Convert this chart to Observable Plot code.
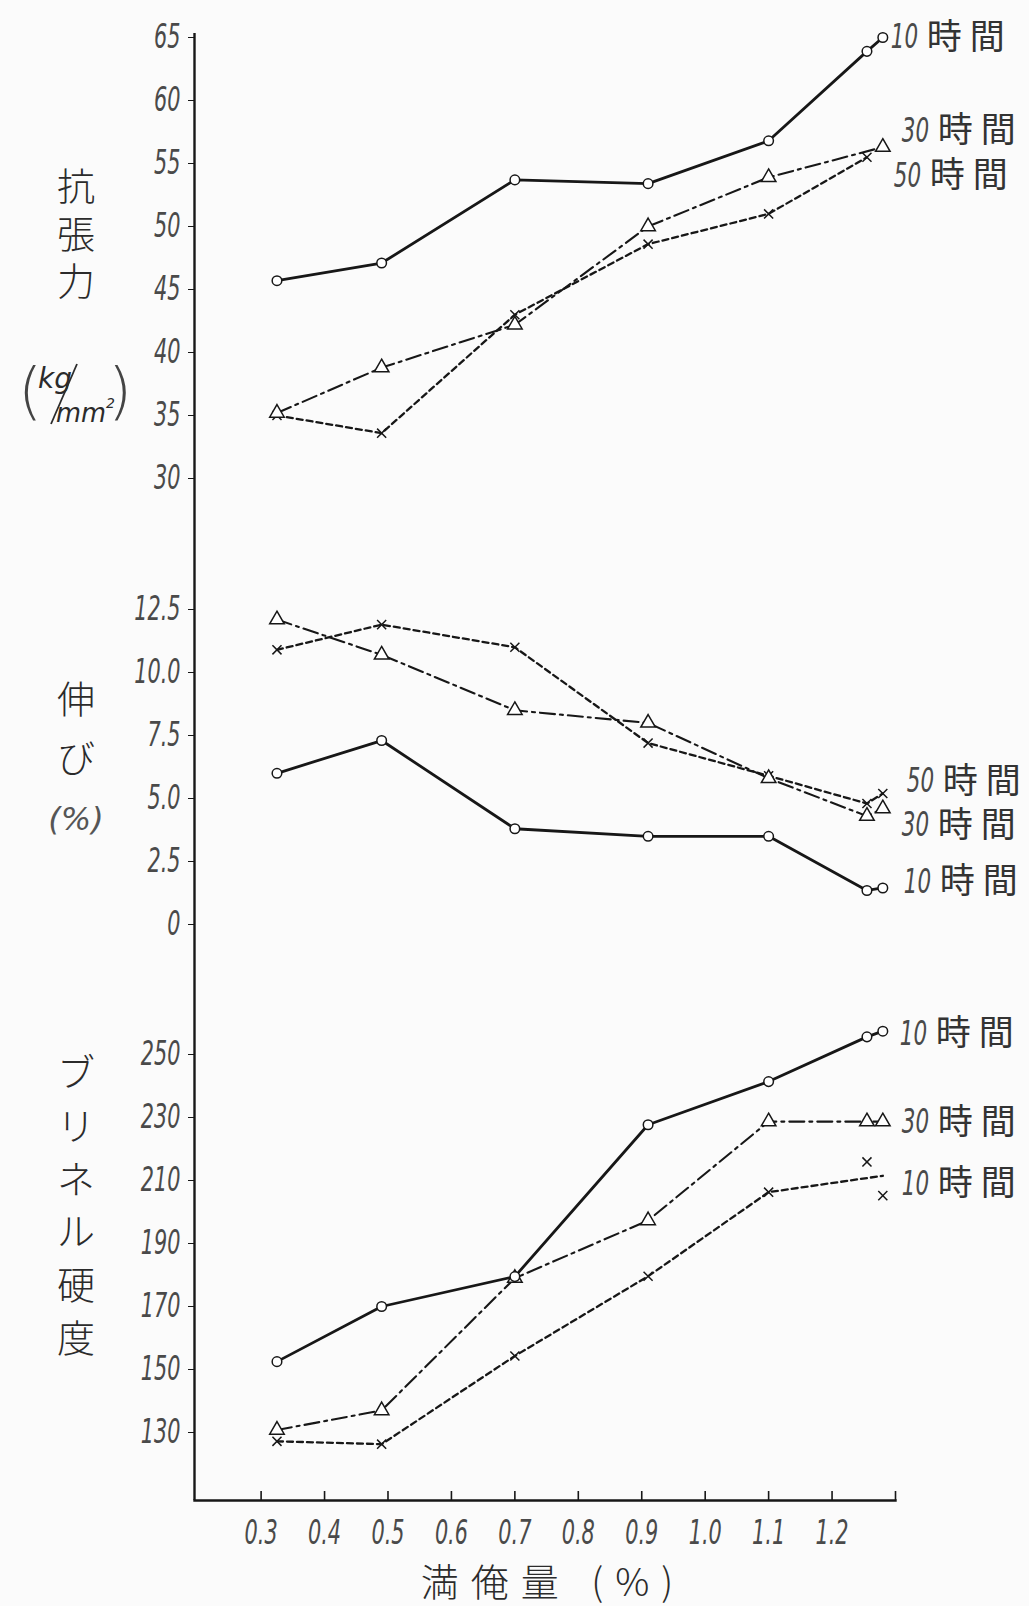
<!DOCTYPE html>
<html><head><meta charset="utf-8">
<script src="https://cdn.jsdelivr.net/npm/d3@7"></script>
<script src="https://cdn.jsdelivr.net/npm/@observablehq/plot@0.6"></script>
<style>
html,body{margin:0;padding:0;background:#fbfbfb;}
#wrap{position:relative;width:1029px;height:1606px;overflow:hidden;background:#fbfbfb;}
.panel{position:absolute;left:0;width:1029px;}
.panel svg{display:block;overflow:visible;}
.vt{position:absolute;font-family:"Noto Sans CJK JP",sans-serif;color:#2b2b2b;line-height:1;transform:translate(-50%,-50%);white-space:nowrap;font-weight:300;}
</style></head><body><div id="wrap"></div>
<script>
// ---------------- data ----------------
const manganese = [0.325, 0.49, 0.70, 0.91, 1.10, 1.255];   // 満俺量 (%)
const manganeseEnd = 1.28;                                   // end marker beside the labels

const tensile10 = [45.7, 47.1, 53.7, 53.4, 56.8, 63.9];
const tensile30 = [35.2, 38.8, 42.2, 50.0, 53.9, null];
const tensile50 = [35.0, 33.6, 43.0, 48.6, 51.0, 55.5];
const tensileEnd = [65.0, 56.3, null];
const tensileLabels = ["10時間", "30時間", "50時間"];

const elong10 = [6.0, 7.3, 3.8, 3.5, 3.5, 1.35];
const elong30 = [12.1, 10.7, 8.5, 8.0, 5.8, 4.3];
const elong50 = [10.9, 11.9, 11.0, 7.2, 5.9, 4.8];
const elongEnd = [1.45, 4.6, 5.2];
const elongLabels = ["10時間", "30時間", "50時間"];

const hard10 = [152.5, 170.0, 179.5, 227.7, 241.4, 255.6];
const hard30 = [130.8, 137.0, 179.0, 197.3, 228.7, 228.7];
const hard50 = [127.2, 126.3, 154.3, 179.6, 206.3, 215.9];
const hardEnd = [257.4, 228.7, 205.2];
const hard50LineEnd = 211.5;
const hardLabels = ["10時間", "30時間", "10時間"];

const tensileTicks = [30, 35, 40, 45, 50, 55, 60, 65];
const tensileTickLabels = ["30", "35", "40", "45", "50", "55", "60", "65"];
const elongTicks = [0, 2.5, 5, 7.5, 10, 12.5];
const elongTickLabels = ["0", "2.5", "5.0", "7.5", "10.0", "12.5"];
const hardTicks = [130, 150, 170, 190, 210, 230, 250];
const hardTickLabels = ["130", "150", "170", "190", "210", "230", "250"];
const xTicks = [0.3, 0.4, 0.5, 0.6, 0.7, 0.8, 0.9, 1.0, 1.1, 1.2];
const xTickLabels = ["0.3", "0.4", "0.5", "0.6", "0.7", "0.8", "0.9", "1.0", "1.1", "1.2"];
const xTitle = "満俺量 (%)";

// ---------------- layout / style ----------------
const X_DOMAIN = [0.195, 1.30];
const INK = "#171717";
const styles = [
  {dash: null, sw: 2.8, symbol: "circle", r: 4.8},
  {dash: "15,5,3,5", sw: 2.1, symbol: "triangle", r: 5.4},
  {dash: "6,4", sw: 2.3, symbol: "times", r: 4.2}
];

function pts(values) {
  return manganese.map((x, i) => ({x, y: values[i]})).filter(d => d.y != null);
}
function seriesMarks(values, endValue, st, linePts) {
  const p = pts(values);
  const all = endValue == null ? p : p.concat([{x: manganeseEnd, y: endValue}]);
  const lineOpts = {x: "x", y: "y", stroke: INK, strokeWidth: st.sw, strokeLinejoin: "round"};
  if (st.dash) lineOpts.strokeDasharray = st.dash;
  return [
    Plot.line(linePts || all, lineOpts),
    Plot.dot(all, {x: "x", y: "y", symbol: st.symbol, r: st.r,
      fill: st.symbol === "times" ? "none" : "white", stroke: INK, strokeWidth: 1.5})
  ];
}
function labelMarks(text, yValue, dx, dy) {
  const m = text.match(/^(\d+)(.*)$/);
  return [
    Plot.text([{x: manganeseEnd, y: yValue, t: m[1]}], {x: "x", y: "y", text: "t", dx, dy,
      textAnchor: "start", fontSize: 34, fontFamily: "DejaVu Sans, sans-serif", fill: "#2a2a2a"}),
    Plot.text([{x: manganeseEnd, y: yValue, t: m[2]}], {x: "x", y: "y", text: "t", dx: dx + 36, dy,
      textAnchor: "start", fontSize: 35, fontFamily: "Noto Sans CJK JP, sans-serif", fill: "#333"})
  ];
}
function panel({height, marginTop, marginBottom, yDomain, yRange, yTicks, yTickLabels, marks}) {
  return Plot.plot({
    width: 1029, height, marginLeft: 194, marginRight: 134, marginTop, marginBottom,
    style: {background: "transparent", overflow: "visible", fontFamily: "DejaVu Sans, sans-serif",
      fontSize: "33px", color: INK},
    x: {domain: X_DOMAIN, axis: null},
    y: {domain: yDomain, range: yRange, ticks: yTicks, tickSize: 6, tickPadding: 8, label: null,
      tickFormat: d => yTickLabels[yTicks.indexOf(d)]},
    marks: [Plot.ruleX([X_DOMAIN[0]], {stroke: INK, strokeWidth: 2.4}), ...marks]
  });
}
// numbers: thin narrow italic (squeezed with textLength, no transform); CJK labels letter-spaced
function polish(svg) {
  d3.select(svg).selectAll("text").each(function () {
    const s = this.textContent;
    if (/^[\d.]+$/.test(s)) {
      this.setAttribute("font-style", "italic");
      this.setAttribute("fill", "#4a4a4a");
      const L = this.getComputedTextLength();
      if (L > 0) {
        this.setAttribute("textLength", (L * 0.63).toFixed(1));
        this.setAttribute("lengthAdjust", "spacingAndGlyphs");
      }
    } else if (/時間/.test(s)) {
      this.setAttribute("letter-spacing", 8);
    }
  });
}

const wrap = document.getElementById("wrap");
function addPanel(svg, top) {
  const d = document.createElement("div");
  d.className = "panel"; d.style.top = top + "px";
  d.appendChild(svg); wrap.appendChild(d);
  polish(svg);
}
function addText(txt, cx, cy, size) {
  const d = document.createElement("div");
  d.className = "vt"; d.textContent = txt;
  d.style.left = cx + "px"; d.style.top = cy + "px"; d.style.fontSize = size + "px";
  wrap.appendChild(d);
  return d;
}

// ---------------- panel A: 抗張力 ----------------
const A = panel({
  height: 545, marginTop: 33, marginBottom: 0,
  yDomain: [30, 65], yRange: [478, 37], yTicks: tensileTicks, yTickLabels: tensileTickLabels,
  marks: [
    ...seriesMarks(tensile50, tensileEnd[2], styles[2]),
    ...seriesMarks(tensile30, tensileEnd[1], styles[1]),
    ...seriesMarks(tensile10, tensileEnd[0], styles[0]),
    ...labelMarks(tensileLabels[0], tensileEnd[0], 8, 0),
    ...labelMarks(tensileLabels[1], tensileEnd[1], 19, -16),
    ...labelMarks(tensileLabels[2], tensile50[5], 11, 19)
  ]
});
addPanel(A, 0);

// ---------------- panel B: 伸び ----------------
const B = panel({
  height: 430, marginTop: 0, marginBottom: 0,
  yDomain: [0, 12.5], yRange: [379, 64], yTicks: elongTicks, yTickLabels: elongTickLabels,
  marks: [
    ...seriesMarks(elong50, elongEnd[2], styles[2]),
    ...seriesMarks(elong30, elongEnd[1], styles[1]),
    ...seriesMarks(elong10, elongEnd[0], styles[0]),
    ...labelMarks(elongLabels[0], elongEnd[0], 21, -6),
    ...labelMarks(elongLabels[1], elongEnd[1], 19, 17),
    ...labelMarks(elongLabels[2], elongEnd[2], 24, -12)
  ]
});
addPanel(B, 545);

// ---------------- panel C: ブリネル硬度 ----------------
const C_H = 631, C_MB = 106;
const hard50Line = pts(hard50).slice(0, 5).concat([{x: manganeseEnd, y: hard50LineEnd}]);
const C = panel({
  height: C_H, marginTop: 0, marginBottom: C_MB,
  yDomain: [130, 250], yRange: [457, 79], yTicks: hardTicks, yTickLabels: hardTickLabels,
  marks: [
    Plot.frame({anchor: "bottom", stroke: INK, strokeWidth: 2.4}),
    Plot.ruleX(xTicks.concat([X_DOMAIN[1]]), {insetTop: C_H - C_MB - 9, stroke: INK, strokeWidth: 1.6}),
    Plot.text(xTicks, {x: d => d, text: (d, i) => xTickLabels[i], frameAnchor: "bottom",
      lineAnchor: "middle", dy: 33, fontSize: 33}),
    ...seriesMarks(hard50, hardEnd[2], styles[2], hard50Line),
    ...seriesMarks(hard30, hardEnd[1], styles[1]),
    ...seriesMarks(hard10, hardEnd[0], styles[0]),
    ...labelMarks(hardLabels[0], hardEnd[0], 17, 3),
    ...labelMarks(hardLabels[1], hardEnd[1], 19, 1),
    ...labelMarks(hardLabels[2], hardEnd[2], 19, -12)
  ]
});
addPanel(C, 975);

// ---------------- axis titles ----------------
[["抗", 184], ["張", 232], ["力", 279]].forEach(([c, y]) => addText(c, 76, y, 38));

const unit = document.createElement("div");
unit.style.cssText = "position:absolute;left:14px;top:356px;width:116px;height:74px;";
unit.innerHTML =
  '<svg width="116" height="74" style="overflow:visible;font-family:DejaVu Sans,sans-serif;fill:#2b2b2b">' +
  '<text x="4" y="56" font-size="62" font-weight="200" fill="#444">(</text>' +
  '<text x="24" y="32" font-size="28" font-style="italic" textLength="34" lengthAdjust="spacingAndGlyphs">kg</text>' +
  '<line x1="63" y1="8" x2="37" y2="68" stroke="#2b2b2b" stroke-width="1.8"/>' +
  '<text x="42" y="66" font-size="26" font-style="italic" textLength="50" lengthAdjust="spacingAndGlyphs">mm</text>' +
  '<text x="92" y="52" font-size="14" font-style="italic">2</text>' +
  '<text x="94" y="56" font-size="62" font-weight="200" fill="#444">)</text>' +
  '</svg>';
wrap.appendChild(unit);

[["伸", 697], ["び", 756]].forEach(([c, y]) => addText(c, 76, y, 38));
const pct = addText("(%)", 76, 819, 32);
pct.style.fontFamily = "DejaVu Sans, sans-serif"; pct.style.fontStyle = "italic";
pct.style.fontWeight = "200"; pct.style.color = "#555";

[["ブ", 1070], ["リ", 1124], ["ネ", 1177], ["ル", 1229], ["硬", 1283], ["度", 1336]]
  .forEach(([c, y]) => addText(c, 76, y, 38));

const xt = addText(xTitle, 553, 1580, 38);
xt.style.letterSpacing = "12px";
</script></body></html>
